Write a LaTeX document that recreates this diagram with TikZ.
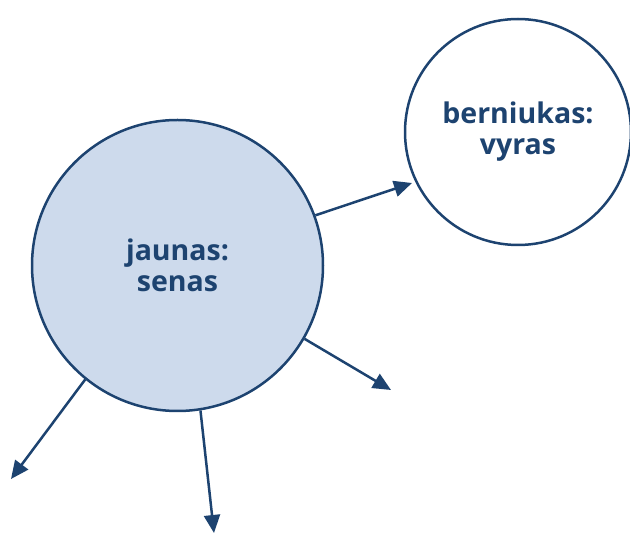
\documentclass[tikz,border=0pt]{standalone}
\usepackage{fontspec}
\setmainfont{Open Sans}
\usetikzlibrary{arrows.meta}
\definecolor{dblue}{HTML}{1D4370}
\definecolor{lblue}{HTML}{CDDAEC}
\tikzset{
  blob/.style={circle, draw=dblue, line width=2.5pt, inner sep=0pt,
    text=dblue, align=center, font=\fontsize{28.5}{31}\selectfont\bfseries},
  arr/.style={draw=dblue, line width=2.5pt,
    -{Triangle[length=18pt, width=16pt]}}
}
\begin{document}
\begin{tikzpicture}[x=1pt, y=-1pt]
        \useasboundingbox (0,0) rectangle (630,534);
        \node[blob, fill=lblue, minimum size=291pt] (jaunas) at (177.5,265.5) {jaunas:\\senas};
        \node[blob, fill=white, minimum size=226pt] (berniukas) at (518,132) {berniukas:\\vyras};
        \coordinate (tipA) at (412,183);
        \coordinate (tipB) at (391,390);
        \coordinate (tipC) at (11,479);
        \coordinate (tipD) at (214,533);
        \draw[arr] (jaunas.20) -- (tipA);
        \draw[arr] (jaunas.-30) -- (tipB);
        \draw[arr] (jaunas.231) -- (tipC);
        \draw[arr] (jaunas.279) -- (tipD);
\end{tikzpicture}
\end{document}
